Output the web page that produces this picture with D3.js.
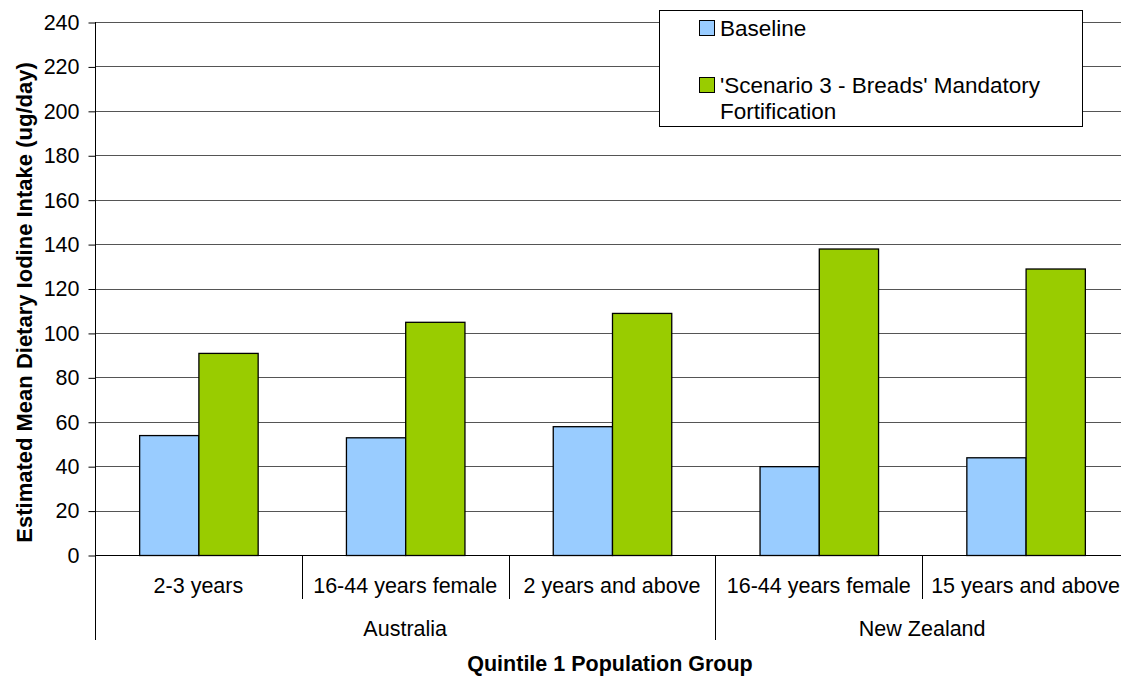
<!DOCTYPE html>
<html><head><meta charset="utf-8">
<script src="https://cdn.jsdelivr.net/npm/d3@7"></script>
<style>body{margin:0;background:#fff}svg{display:block;font-family:"Liberation Sans",Arial,sans-serif}</style>
</head><body><svg id="c" width="1121" height="677"></svg>
<script>
const categories = ["2-3 years","16-44 years female","2 years and above","16-44 years female","15 years and above"];
const groups = [{name:"Australia", span:3},{name:"New Zealand", span:2}];
const seriesNames = ["Baseline","'Scenario 3 - Breads' Mandatory Fortification"];
const baseline = [54,53,58,40,44];
const scenario3 = [91,105,109,138,129];
const yTicks = [0,20,40,60,80,100,120,140,160,180,200,220,240];
const colors = ["#99CCFF","#99CC00"];

(function(){
const svg = d3.select("#c");
const pL = 95, pR = 1129, pT = 22, pB = 555;
const idx = d3.range(categories.length);
const x = d3.scaleBand().domain(idx).range([pL,pR]).paddingInner(0).paddingOuter(0);
const y = d3.scaleLinear().domain([0,240]).range([pB,pT]);
const inner = d3.scaleBand().domain([0,1]).range([0,x.bandwidth()]).paddingInner(0).paddingOuter(0.745);

// gridlines
svg.append("g").selectAll("line").data(yTicks.filter(d=>d>0)).join("line")
  .attr("x1",pL).attr("x2",1121).attr("y1",d=>Math.round(y(d))+0.5).attr("y2",d=>Math.round(y(d))+0.5)
  .attr("stroke","#555").attr("stroke-width",1);

// y axis
const yAxis = svg.append("g").attr("transform",`translate(${pL+0.5},0.5)`)
  .call(d3.axisLeft(y).tickValues(yTicks).tickSize(7).tickPadding(9));
yAxis.select(".domain").remove();
yAxis.selectAll(".tick line").attr("stroke","#000");
yAxis.selectAll("text").attr("font-size",21.5).attr("fill","#000").attr("font-family","Liberation Sans, Arial, sans-serif");
svg.append("line").attr("x1",pL+0.5).attr("x2",pL+0.5).attr("y1",pT).attr("y2",640).attr("stroke","#000");

// bars
const data = idx.map(i=>[baseline[i],scenario3[i]]);
const g = svg.append("g");
idx.forEach(i=>{
  data[i].forEach((v,s)=>{
    g.append("rect").attr("x",x(i)+inner(s)+0.5).attr("y",y(v)+0.5)
     .attr("width",inner.bandwidth()).attr("height",pB-y(v))
     .attr("fill",colors[s]).attr("stroke","#000").attr("stroke-width",1.3);
  });
});

// x baseline
svg.append("line").attr("x1",pL).attr("x2",1121).attr("y1",pB+0.5).attr("y2",pB+0.5).attr("stroke","#000");

// category labels & separators
svg.append("g").selectAll("text").data(idx).join("text")
  .attr("x",i=>x(i)+x.bandwidth()/2).attr("y",593).attr("text-anchor","middle")
  .attr("font-size",21.5).text(i=>categories[i]);
svg.append("g").selectAll("line").data(idx.slice(1)).join("line")
  .attr("x1",i=>Math.round(x(i))+0.5).attr("x2",i=>Math.round(x(i))+0.5)
  .attr("y1",pB).attr("y2",i=>{let c=0;for(const gr of groups){c+=gr.span;if(c===i)return 640;}return 599;})
  .attr("stroke","#000");
let start=0;
groups.forEach(gr=>{
  const x0 = x(start), x1 = x(start+gr.span-1)+x.bandwidth();
  svg.append("text").attr("x",(x0+x1)/2).attr("y",636).attr("text-anchor","middle").attr("font-size",21.5).text(gr.name);
  start+=gr.span;
});

// axis titles
svg.append("text").attr("x",610).attr("y",671).attr("text-anchor","middle")
  .attr("font-size",21.5).attr("font-weight","bold").text("Quintile 1 Population Group");
svg.append("text").attr("transform",`translate(32,302.5) rotate(-90)`).attr("text-anchor","middle")
  .attr("font-size",22).attr("font-weight","bold").text("Estimated Mean Dietary Iodine Intake (ug/day)");

// legend
const lg = svg.append("g");
lg.append("rect").attr("x",659.5).attr("y",10.5).attr("width",423).attr("height",116).attr("fill","#fff").attr("stroke","#000");
const lgItems = [{y:36, lines:[seriesNames[0]]},{y:93, lines:["'Scenario 3 - Breads' Mandatory","Fortification"]}];
lgItems.forEach((it,s)=>{
  lg.append("rect").attr("x",699.5).attr("y",it.y-15.5).attr("width",15).attr("height",15).attr("fill",colors[s]).attr("stroke","#000");
  it.lines.forEach((l,k)=>lg.append("text").attr("x",720).attr("y",it.y+k*26).attr("font-size",22.5).text(l));
});
})();
</script></body></html>
